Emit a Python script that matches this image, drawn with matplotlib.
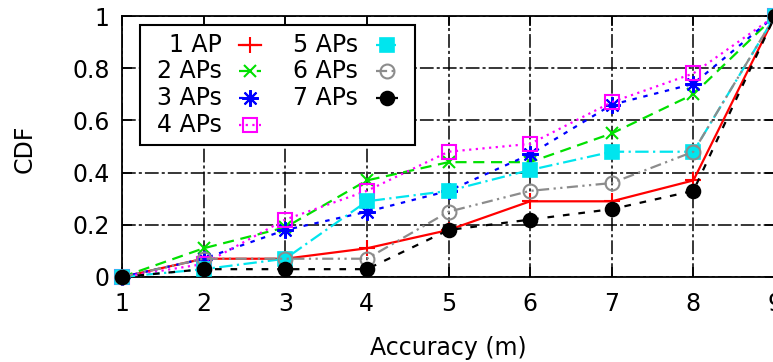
import numpy as np
import matplotlib
matplotlib.use("Agg")
import matplotlib.pyplot as plt
from matplotlib.lines import Line2D

# accuracy values (m)
accuracy = [1, 2, 3, 4, 5, 6, 7, 8, 9]

# CDF for each number of APs
cdf_1ap = [0, 0.07, 0.07, 0.11, 0.18, 0.29, 0.29, 0.37, 1.0]
cdf_2aps = [0, 0.11, 0.19, 0.37, 0.44, 0.44, 0.55, 0.70, 1.0]
cdf_3aps = [0, 0.07, 0.18, 0.25, 0.33, 0.47, 0.66, 0.74, 1.0]
cdf_4aps = [0, 0.05, 0.22, 0.33, 0.48, 0.51, 0.67, 0.78, 1.0]
cdf_5aps = [0, 0.03, 0.07, 0.29, 0.33, 0.41, 0.48, 0.48, 1.0]
cdf_6aps = [0, 0.07, 0.07, 0.07, 0.25, 0.33, 0.36, 0.48, 1.0]
cdf_7aps = [0, 0.03, 0.03, 0.03, 0.18, 0.22, 0.26, 0.33, 1.0]

labels = ["1 AP", "2 APs", "3 APs", "4 APs", "5 APs", "6 APs", "7 APs"]
series = [cdf_1ap, cdf_2aps, cdf_3aps, cdf_4aps, cdf_5aps, cdf_6aps, cdf_7aps]

styles = [
	dict(color="#ff0000", ls="-", marker="+", ms=12, mew=1.5, mfc="none"),
	dict(color="#00e000", ls=(0, (5, 3)), marker="x", ms=9, mew=1.5, mfc="none"),
	dict(color="#0000ff", ls=(0, (2, 3)), marker=(8, 2, 0), ms=12, mew=1.5, mfc="none"),
	dict(color="#ff00ff", ls=(0, (1, 2)), marker="s", ms=10, mew=1.5, mfc="none"),
	dict(color="#00e5ee", ls=(0, (6, 2, 1, 2)), marker="s", ms=10, mew=1.2, mfc="#00e5ee"),
	dict(color="#8c8c8c", ls=(0, (5, 2, 1, 2, 1, 2)), marker="o", ms=10, mew=1.5, mfc="none"),
	dict(color="#000000", ls=(0, (3, 4)), marker="o", ms=10, mew=1.2, mfc="#000000"),
]

fs = 17

def main():
	fig = plt.figure(figsize=(7.73, 3.62), dpi=100)
	W, H = 773.0, 362.0
	ax = fig.add_axes([122 / W, 1 - 277 / H, (775 - 122) / W, (277 - 16) / H])

	for y, lab, st in zip(series, labels, styles):
		ax.plot(accuracy, y, lw=1.6, clip_on=False, zorder=3, label=lab, **st)

	ax.set_xlim(1, 9)
	ax.set_ylim(0, 1)
	ax.set_xticks(accuracy)
	ax.set_yticks([0, 0.2, 0.4, 0.6, 0.8, 1.0])
	ax.set_yticklabels(["0", "0.2", "0.4", "0.6", "0.8", "1"])
	ax.tick_params(direction="in", top=True, right=True, length=7, width=1.2,
		labelsize=fs, pad=9)
	ax.tick_params(axis="x", pad=11)
	ax.grid(True, color="black", lw=1.1, ls=(0, (9, 2, 2, 2)))
	ax.set_axisbelow(True)
	for sp in ax.spines.values():
		sp.set_linewidth(1.3)

	ax.set_xlabel("Accuracy (m)", fontsize=fs, labelpad=14)
	ax.set_ylabel("CDF", fontsize=fs)
	ax.yaxis.set_label_coords(-0.13, 0.49)

	# gnuplot style key: text right aligned, sample after it
	def px(x, y):
		return ((x - 122) / 653.0, (277 - y) / 261.0)

	x0, y0 = px(140, 25)
	x1, y1 = px(415, 145)
	ax.add_patch(plt.Rectangle((x0, y1), x1 - x0, y0 - y1, transform=ax.transAxes,
		fill=True, fc="white", ec="black", lw=1.5, zorder=5))
	rows = [45, 71, 98, 125]
	for i, (lab, st) in enumerate(zip(labels, styles)):
		col = i // 4
		row = i % 4
		tx = 222 if col == 0 else 358
		sx = 250 if col == 0 else 387
		tx, ty = px(tx, rows[row])
		sx0, _ = px(sx - 11, rows[row])
		sx1, _ = px(sx + 11, rows[row])
		ax.text(tx, ty, lab, transform=ax.transAxes, ha="right", va="center",
			fontsize=fs, zorder=6)
		ax.add_line(Line2D([sx0, sx1], [ty, ty], transform=ax.transAxes, lw=1.6,
			color=st["color"], ls=st["ls"], zorder=6))
		ax.add_line(Line2D([(sx0 + sx1) / 2], [ty], transform=ax.transAxes, lw=0,
			zorder=7, **{k: v for k, v in st.items() if k != "ls"}))

	fig.savefig("out.png", dpi=100)

if __name__ == "__main__":
	main()
